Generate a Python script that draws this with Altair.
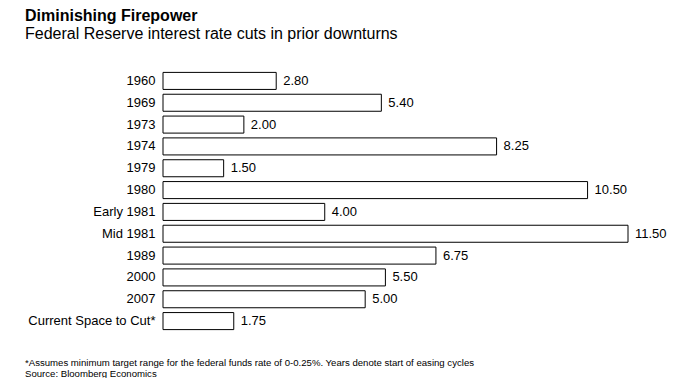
import altair as alt
import pandas as pd

categories = ["1960", "1969", "1973", "1974", "1979", "1980", "Early 1981",
              "Mid 1981", "1989", "2000", "2007", "Current Space to Cut*"]
values = [2.80, 5.40, 2.00, 8.25, 1.50, 10.50, 4.00, 11.50, 6.75, 5.50, 5.00, 1.75]
footnotes = ["*Assumes minimum target range for the federal funds rate of 0-0.25%. Years denote start of easing cycles",
             "Source: Bloomberg Economics"]

df = pd.DataFrame({"cat": categories, "val": values})
df["label"] = [f"{v:.2f}" for v in values]
fn = pd.DataFrame({"t": footnotes, "i": [0, 1]})

FONT = "Liberation Sans"

y = alt.Y("cat:N", sort=categories, title="",
          scale=alt.Scale(paddingInner=0.22, paddingOuter=0.11),
          axis=alt.Axis(domain=False, ticks=False, labelPadding=8,
                        labelFontSize=13, labelColor="#000", labelFont=FONT))
x = alt.X("val:Q", scale=alt.Scale(domain=[0, 11.5]), axis=None)

bars = alt.Chart(df).mark_bar(fill="white", stroke="#000", strokeWidth=1).encode(x=x, y=y)
labels = alt.Chart(df).mark_text(align="left", dx=7, fontSize=13, font=FONT, color="#000").encode(
    x=x, y=y, text="label:N")

foot_style = dict(align="left", baseline="alphabetic", fontSize=9.6, font=FONT, color="#000")
foot1 = alt.Chart(fn).transform_filter("datum.i == 0").mark_text(**foot_style).encode(
    x=alt.value(-138), y=alt.value(296), text="t:N")
foot2 = alt.Chart(fn).transform_filter("datum.i == 1").mark_text(**foot_style).encode(
    x=alt.value(-138), y=alt.value(307), text="t:N")

chart = alt.layer(bars, labels, foot1, foot2).properties(
    width=465, height=262,
    autosize=alt.AutoSizeParams(type="none"),
    padding={"left": 155, "top": 62, "right": 40, "bottom": 46},
    title=alt.TitleParams(
        text="Diminishing Firepower",
        subtitle="Federal Reserve interest rate cuts in prior downturns",
        anchor="start", frame="group", dx=-138, offset=28,
        font=FONT, fontSize=16, fontWeight="bold", color="#000",
        subtitleFont=FONT, subtitleFontSize=16, subtitleColor="#000",
        subtitlePadding=2),
).configure_view(stroke=None)

chart.save("out.html", embed_options={"renderer": "svg", "actions": False})
